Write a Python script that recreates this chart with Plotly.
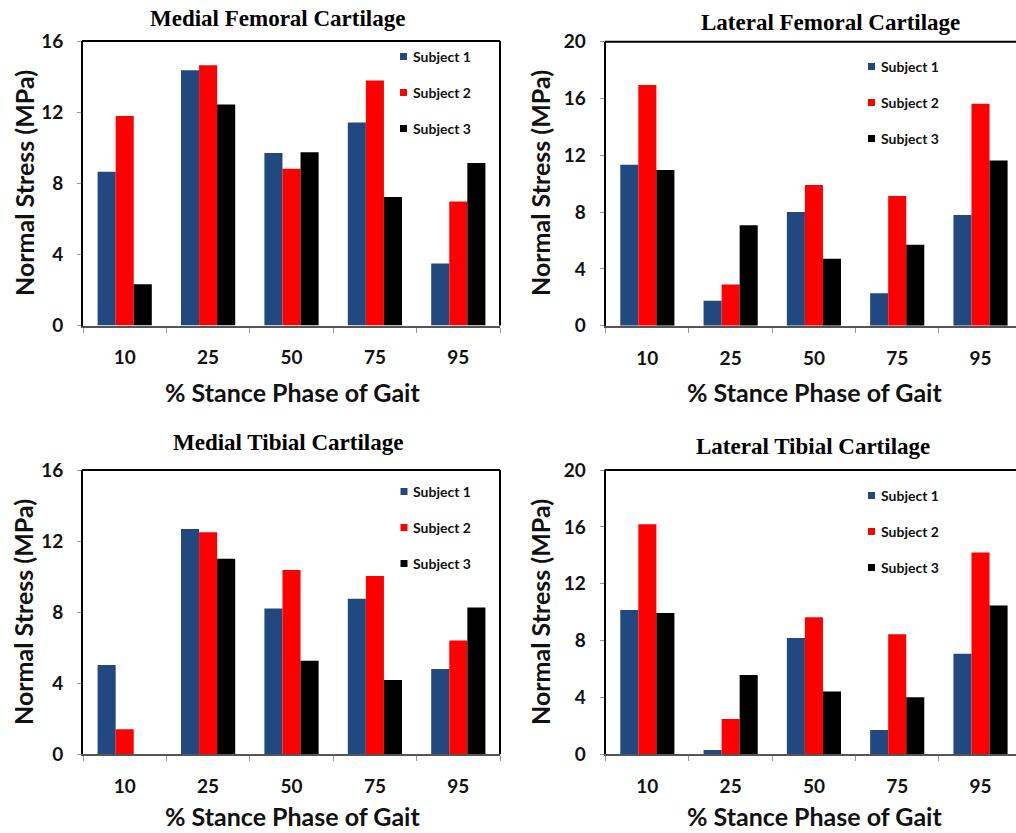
import plotly.graph_objects as go

# Stance-phase categories shared by every panel
CATEGORIES = ["10", "25", "50", "75", "95"]
SUBJECTS = ["Subject 1", "Subject 2", "Subject 3"]
COLORS = ["#21497F", "#FF0000", "#000000"]

# Normal stress (MPa) per subject, per cartilage region
MFC_S1 = [8.65, 14.35, 9.70, 11.42, 3.48]
MFC_S2 = [11.78, 14.64, 8.82, 13.78, 6.97]
MFC_S3 = [2.32, 12.43, 9.74, 7.23, 9.14]

LFC_S1 = [11.34, 1.76, 8.00, 2.28, 7.79]
LFC_S2 = [16.95, 2.91, 9.90, 9.13, 15.63]
LFC_S3 = [10.96, 7.07, 4.72, 5.70, 11.64]

MTC_S1 = [5.03, 12.68, 8.20, 8.76, 4.80]
MTC_S2 = [1.41, 12.49, 10.37, 10.04, 6.40]
MTC_S3 = [0.0, 11.01, 5.27, 4.18, 8.26]

LTC_S1 = [10.15, 0.30, 8.18, 1.71, 7.08]
LTC_S2 = [16.18, 2.49, 9.64, 8.44, 14.19]
LTC_S3 = [9.94, 5.58, 4.41, 4.01, 10.46]

TITLES = ["Medial Femoral Cartilage", "Lateral Femoral Cartilage",
          "Medial Tibial Cartilage", "Lateral Tibial Cartilage"]
X_TITLE = "% Stance Phase of Gait"
Y_TITLE = "Normal Stress (MPa)"
Y_MAX = [16, 20, 16, 20]
Y_TICKS = [[0, 4, 8, 12, 16], [0, 4, 8, 12, 16, 20],
           [0, 4, 8, 12, 16], [0, 4, 8, 12, 16, 20]]
PANEL_DATA = [
    [MFC_S1, MFC_S2, MFC_S3],
    [LFC_S1, LFC_S2, LFC_S3],
    [MTC_S1, MTC_S2, MTC_S3],
    [LTC_S1, LTC_S2, LTC_S3],
]

W, H = 1016, 833

# Plot boxes in pixels: left, right, top, bottom, visible x-range end
BOXES = [
    (83.0, 500.0, 41.0, 325.5, 4.5),
    (605.7, 1016.0, 41.7, 325.7, 4.426),
    (83.0, 500.0, 470.0, 754.3, 4.5),
    (605.7, 1016.0, 470.0, 754.3, 4.426),
]
# Text centres in pixels
TITLE_POS = [(277, 19), (830, 22), (288, 442), (813, 447)]
XTITLE_POS = [(292, 392), (814, 392), (292, 816), (814, 816)]
YTITLE_POS = [(24, 183), (540, 183), (23, 612), (540, 612)]
# Legend anchor: marker centre x, first row y
LEGEND_POS = [(403.5, 56.5), (871.5, 66.5), (404, 491.5), (871.5, 495.5)]
LEGEND_STEP = 36

SANS = "Lato"
SERIF = "Liberation Serif"


def px(x):
    return x / W


def py(y):
    return 1 - y / H


def label(text, x, y, font, angle=0, xanchor="center"):
    return dict(text=text, x=px(x), y=py(y), xref="paper", yref="paper",
                xanchor=xanchor, yanchor="middle", showarrow=False,
                textangle=angle, font=font)


fig = go.Figure()
annotations = []
shapes = []

tick_font = dict(family=SANS, size=19, color="#111111", weight=700)
axis_title_font = dict(family=SANS, size=25, color="#111111", weight=700)

for i in range(4):
    n = "" if i == 0 else str(i + 1)
    xa, ya = "x" + n, "y" + n
    left, right, top, bottom, xend = BOXES[i]

    for s in range(3):
        fig.add_trace(go.Bar(
            x=CATEGORIES, y=PANEL_DATA[i][s], name=SUBJECTS[s],
            marker=dict(color=COLORS[s], line=dict(width=0)),
            xaxis=xa, yaxis=ya, showlegend=False,
        ))

    fig.layout["xaxis" + n] = dict(
        domain=[px(left), px(right)], anchor=ya, automargin=False,
        type="category", range=[-0.5, xend],
        showline=True, linecolor="#555555", linewidth=2,
        ticks="outside", ticklen=5, tickwidth=1, tickcolor="#999999",
        tickson="boundaries", showgrid=False, zeroline=False,
        tickfont=tick_font, ticklabelstandoff=14,
    )
    fig.layout["yaxis" + n] = dict(
        domain=[py(bottom), py(top)], anchor=xa, automargin=False,
        range=[0, Y_MAX[i]], tickvals=Y_TICKS[i],
        showline=True, linecolor="#000000", linewidth=2,
        ticks="outside", ticklen=4, tickwidth=1, tickcolor="#999999",
        showgrid=False, zeroline=False,
        tickfont=tick_font, ticklabelstandoff=10,
    )

    # top and right frame edges
    shapes.append(dict(type="line", xref="paper", yref="paper",
                       x0=px(left) - 0.001, x1=px(right) if xend == 4.5 else 1.0,
                       y0=py(top), y1=py(top),
                       line=dict(color="#000000", width=2)))
    if xend == 4.5:
        shapes.append(dict(type="line", xref="paper", yref="paper",
                           x0=px(right), x1=px(right), y0=py(bottom), y1=py(top),
                           line=dict(color="#000000", width=2)))

    annotations.append(label(TITLES[i], *TITLE_POS[i],
                             dict(family=SERIF, size=23, color="#000000", weight=700)))
    annotations.append(label(X_TITLE, *XTITLE_POS[i], axis_title_font))
    annotations.append(label(Y_TITLE, *YTITLE_POS[i], axis_title_font, angle=-90))

    lx, ly = LEGEND_POS[i]
    for s in range(3):
        cy = ly + s * LEGEND_STEP
        shapes.append(dict(type="rect", xref="paper", yref="paper",
                           x0=px(lx - 3.5), x1=px(lx + 3.5),
                           y0=py(cy + 3.5), y1=py(cy - 3.5),
                           fillcolor=COLORS[s], line=dict(width=0)))
        annotations.append(label(SUBJECTS[s], lx + 7, cy,
                                 dict(family=SANS, size=14, color="#111111", weight=700),
                                 xanchor="left"))

fig.update_layout(
    width=W, height=H,
    margin=dict(l=0, r=0, t=0, b=0, autoexpand=False),
    paper_bgcolor="white", plot_bgcolor="white",
    barmode="group", bargap=0.35, bargroupgap=0,
    showlegend=False,
    annotations=annotations, shapes=shapes,
)

fig.write_html("out.html")
